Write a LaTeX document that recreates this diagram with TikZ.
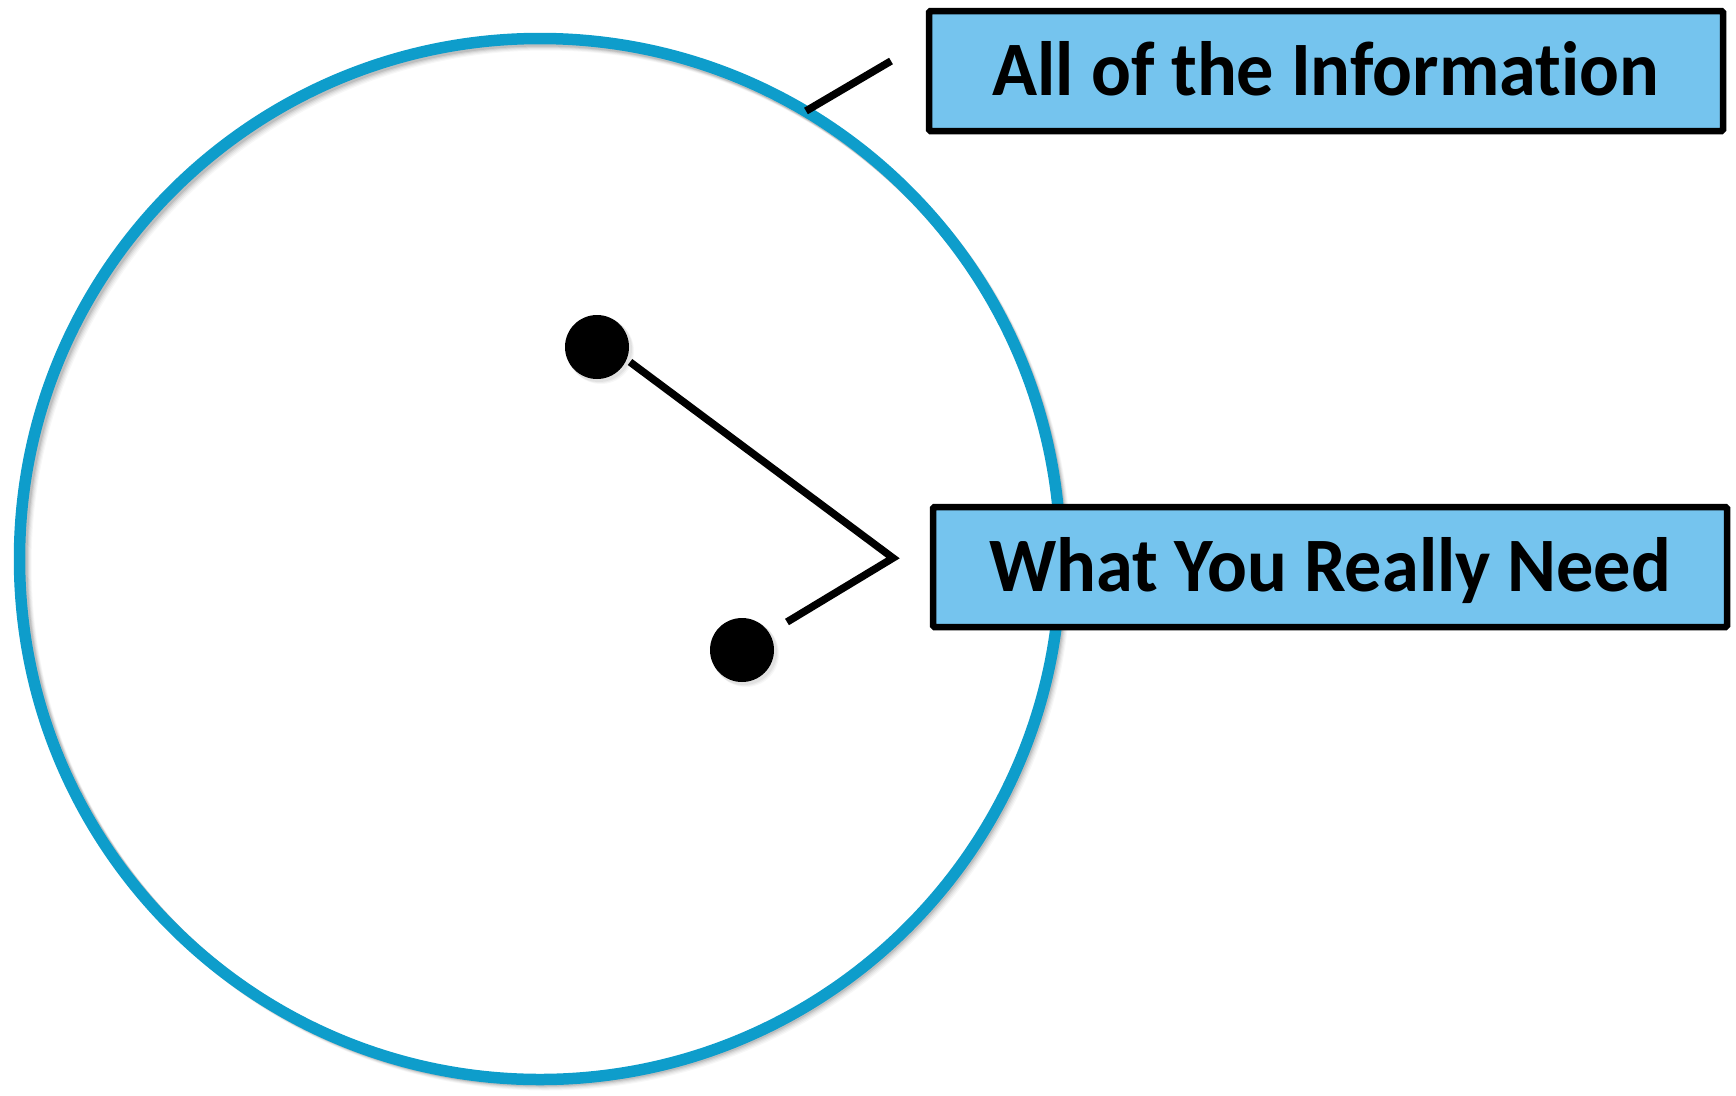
\documentclass[tikz,border=0pt]{standalone}
\usepackage{fontspec}
\setmainfont[Ligatures=NoCommon]{Carlito}
\newfontfamily\boxfont[Ligatures=NoCommon, FakeStretch=0.965]{Carlito}
\usetikzlibrary{calc}
\definecolor{ringblue}{RGB}{14,157,203}
\definecolor{boxblue}{RGB}{117,196,238}
\begin{document}
\begin{tikzpicture}[x=1pt,y=-1pt,
  labelbox/.style={draw=black, line width=6.5pt, fill=boxblue, rounded corners=1.5pt,
    minimum width=794pt, minimum height=120pt, inner sep=0pt,
    font=\boxfont\fontsize{77}{80}\selectfont\bfseries, text height=49pt, text depth=0pt},
  dotnode/.style={circle, fill=black, minimum size=64pt, inner sep=0pt},
  lead/.style={line width=7.5pt, black}]
\useasboundingbox (0,0) rectangle (1736,1095);
% ring shadow
\foreach \o/\a in {6/0.03,5/0.04,4/0.05,3/0.07,2/0.09}{
  \draw[line width=11pt, black, opacity=\a] (540+\o,559+\o) circle[radius=520];
}
\node[circle, draw=ringblue, line width=11.5pt, minimum size=1041pt, inner sep=0pt] (ring) at (540,559) {};
% dot shadows
\foreach \o/\a in {4/0.03,3/0.04,2/0.05}{
  \fill[black, opacity=\a] (597+\o,347+\o) circle[radius=33];
  \fill[black, opacity=\a] (742+\o,650+\o) circle[radius=33];
}
\node[dotnode] (d1) at (597,347) {};
\node[dotnode] (d2) at (742,650) {};
\node[labelbox] (all) at (1326,71) {All of the Information};
\node[labelbox] (need) at (1330,567) {What You Really Need};
\coordinate (c1a) at (806,111);
\coordinate (c1b) at (891,61);
\coordinate (v) at (893,558);
\coordinate (e1) at (630,362);
\coordinate (e2) at (787,622);
\draw[lead] (c1a) -- (c1b);
\draw[lead, line join=miter] (e1) -- (v) -- (e2);
\end{tikzpicture}
\end{document}
